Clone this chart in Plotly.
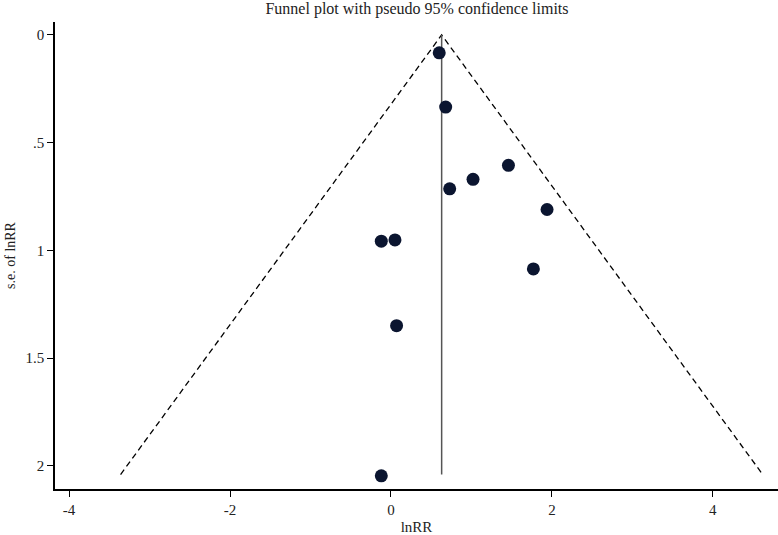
import plotly.graph_objects as go

# Estudios: lnRR y su error estandar
lnrr = [0.60, 0.68, 1.46, 1.02, 0.73, 1.94, -0.12, 0.05, 1.77, 0.07, -0.12]
se_lnrr = [0.083, 0.335, 0.605, 0.670, 0.714, 0.810, 0.957, 0.951, 1.086, 1.349, 2.046]

# Estimacion combinada y limites pseudo 95%
pooled = 0.63
se_max = 2.04
limit_x = [-3.36, 0.63, 4.62]
limit_y = [2.04, 0, 2.04]

x_ticks = [-4, -2, 0, 2, 4]
x_tick_text = ["-4", "-2", "0", "2", "4"]
y_ticks = [0, 0.5, 1, 1.5, 2]
y_tick_text = ["0", ".5", "1", "1.5", "2"]

font = "Liberation Serif, Times New Roman, serif"

fig = go.Figure()

# Limites de confianza (linea discontinua)
fig.add_trace(go.Scatter(x=limit_x, y=limit_y, mode="lines",
                         line=dict(color="black", width=1.3, dash="6px,4px"),
                         hoverinfo="skip"))

# Linea vertical en la estimacion combinada
fig.add_trace(go.Scatter(x=[pooled, pooled], y=[0, se_max], mode="lines",
                         line=dict(color="#555555", width=1.5),
                         hoverinfo="skip"))

# Puntos
fig.add_trace(go.Scatter(x=lnrr, y=se_lnrr, mode="markers",
                         marker=dict(color="#0b1530", size=13)))

fig.update_layout(
    width=778, height=535,
    margin=dict(l=55, r=0, t=22, b=46),
    paper_bgcolor="white", plot_bgcolor="white",
    showlegend=False,
    font=dict(family=font, size=14, color="#222222"),
    title=dict(text="Funnel plot with pseudo 95% confidence limits",
               x=417 / 778, xanchor="center", xref="container",
               y=1 - 8 / 535, yanchor="middle", yref="container",
               font=dict(family=font, size=16, color="#222222")),
)

fig.update_xaxes(range=[-4.175, 4.81], tickvals=x_ticks, ticktext=x_tick_text,
                 showgrid=False, zeroline=False, automargin=False,
                 showline=True, linecolor="black", linewidth=1.5,
                 ticks="outside", ticklen=6, tickcolor="black",
                 tickfont=dict(size=15),
                 title=dict(text="lnRR", standoff=6, font=dict(size=15)))

fig.update_yaxes(range=[2.107, -0.060], tickvals=y_ticks, ticktext=y_tick_text,
                 showgrid=False, zeroline=False, automargin=False,
                 showline=True, linecolor="black", linewidth=1.5,
                 ticks="outside", ticklen=6, tickcolor="black",
                 tickfont=dict(size=15),
                 title=dict(text="s.e. of lnRR", standoff=7, font=dict(size=14)))

# Quita el margen del body para que la figura ocupe toda la ventana
fig.write_html("out.html", config={"displayModeBar": False},
               post_script="document.body.style.margin='0';")
